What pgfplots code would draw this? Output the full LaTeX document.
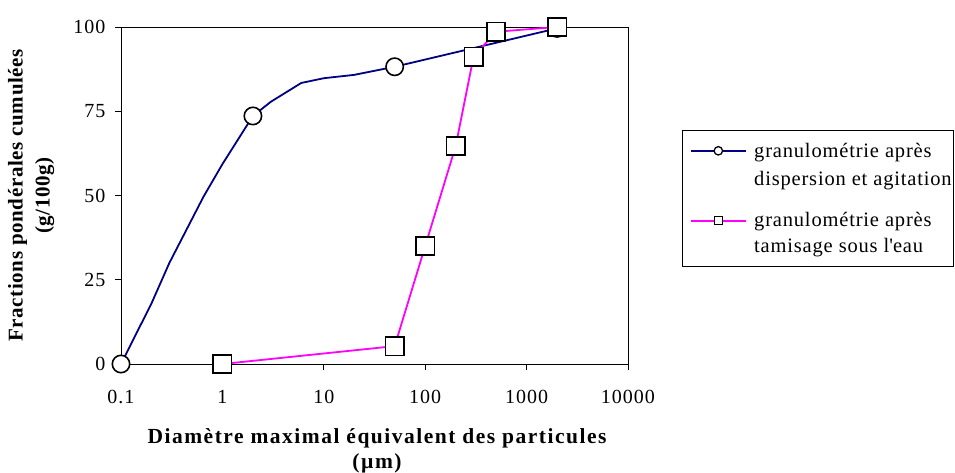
\documentclass[border=0pt]{standalone}
\usepackage{fontspec}
\setmainfont{Liberation Serif}
\usepackage{pgfplots}
\pgfplotsset{compat=1.18}
\definecolor{navyc}{RGB}{0,0,128}
\definecolor{magc}{RGB}{255,0,255}
\pgfplotstableread{
x y
0.1 0
0.2 18
0.3 30
0.65 49.6
1 59.3
2 73.6
3 77.8
6 83.4
10 84.8
20 85.8
50 88.2
2000 99.6
}\dispersion
\pgfplotstableread{
x y
1 0
50 5.3
100 35
200 64.7
300 91.2
500 98.6
2000 100
}\tamisage
\begin{document}
\begin{tikzpicture}
\useasboundingbox (0,0) rectangle (955bp,473bp);
\begin{axis}[
  at={(121bp,109bp)}, anchor=south west,
  width=507bp, height=337bp, scale only axis,
  xmode=log, log basis x=10,
  xmin=0.1, xmax=10000, ymin=0, ymax=100,
  xtick={0.1,1,10,100,1000,10000},
  xticklabels={0.1,1,10,100,1000,10000},
  ytick={0,25,50,75,100},
  yticklabels={0,25,50,75,100},
  xminorticks=false,
  tick align=outside,
  xtick pos=bottom, ytick pos=left,
  major tick length=6bp,
  tick style={black, line width=0.9pt},
  axis line style={black, line width=0.9pt},
  clip=false,
  tick label style={font=\fontsize{20bp}{24bp}\selectfont\addfontfeatures{LetterSpace=5}},
  xticklabel style={yshift=-17bp},
  yticklabel style={xshift=-6bp},
  xlabel={Diamètre maximal équivalent des particules\\(µm)},
  xlabel style={at={(axis description cs:0.505,-0.19)}, anchor=north, align=center, inner sep=0pt,
    font=\bfseries\fontsize{21.5bp}{25bp}\selectfont\addfontfeatures{LetterSpace=7}},
  ylabel={Fractions pondérales cumulées\\(g/100g)},
  ylabel style={at={(axis description cs:-0.223,0.5)}, anchor=north, align=center, inner sep=0pt,
    font=\bfseries\fontsize{21bp}{27bp}\selectfont\addfontfeatures{LetterSpace=3}},
  legend style={at={(axis description cs:1.1065,0.694)}, anchor=north west, draw=black, line width=0.9pt,
    font=\fontsize{20.5bp}{26bp}\selectfont\addfontfeatures{LetterSpace=4},
    nodes={inner sep=0pt}, cells={anchor=west}, inner xsep=2bp, inner ysep=12.5bp,
    row sep=0pt, column sep=7bp},
  legend cell align=left,
]
\addplot[navyc, line width=1.8pt, mark=*, mark indices={1,6,11,12}, mark size=8.7bp,
  mark options={draw=black, fill=white, line width=1.6pt},
  legend image code/.code={\path (0bp,0bp); \draw[navyc,line width=1.8pt] (6bp,0bp)--(61bp,0bp);
    \draw[black,fill=white,line width=1.3pt] (33bp,0bp) circle (4.2bp);}]
  table[x=x,y=y]{\dispersion};
\addlegendentry{\rule{0pt}{14bp}\smash{granulométrie après}}
\addlegendimage{empty legend}
\addlegendentry{\rule{0pt}{26.6bp}\smash{dispersion et agitation}}
\addplot[magc, line width=1.8pt, mark=square*, mark size=9.2bp,
  mark options={draw=black, fill=white, line width=1.6pt},
  legend image code/.code={\path (0bp,-13.3bp); \draw[magc,line width=1.8pt] (6bp,-13.3bp)--(61bp,-13.3bp);
    \draw[black,fill=white,line width=1.3pt] (29bp,-17.3bp) rectangle (37bp,-9.3bp);}]
  table[x=x,y=y]{\tamisage};
\addlegendentry{\rule{0pt}{40bp}\smash{granulométrie après}}
\addlegendimage{empty legend}
\addlegendentry{\rule{0pt}{24bp}\smash{tamisage sous l\textquotesingle eau}}
\end{axis}
\end{tikzpicture}
\end{document}
